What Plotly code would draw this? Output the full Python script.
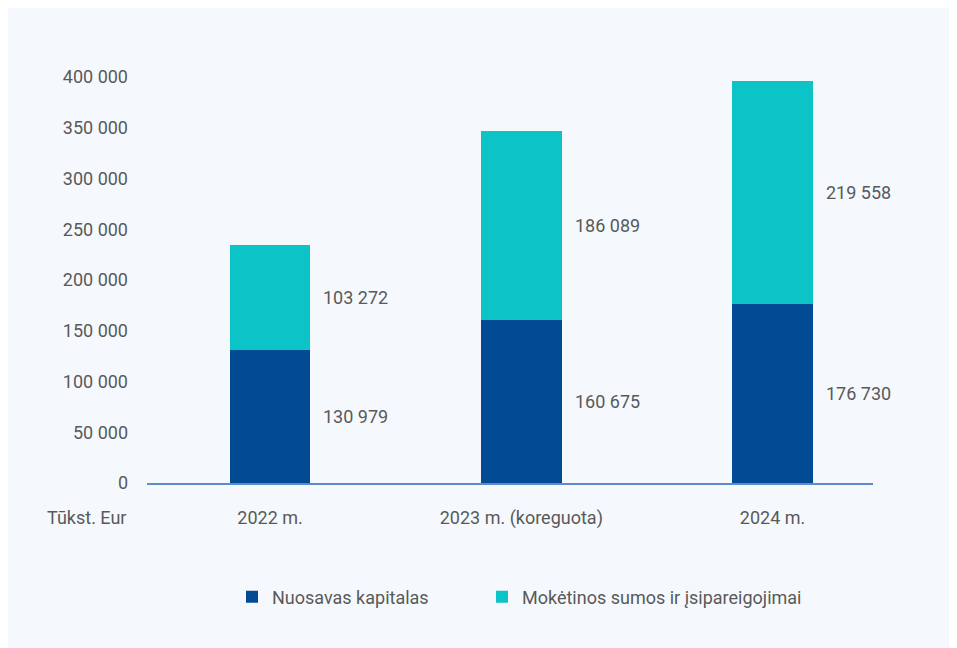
import plotly.graph_objects as go

categories = ["2022 m.", "2023 m. (koreguota)", "2024 m."]
equity = [130979, 160675, 176730]
liabilities = [103272, 186089, 219558]
series_names = ["Nuosavas kapitalas", "Mokėtinos sumos ir įsipareigojimai"]
y_ticks = [0, 50000, 100000, 150000, 200000, 250000, 300000, 350000, 400000]
unit_label = "Tūkst. Eur"

def fmt(v):
    return f"{v:,}".replace(",", " ")

DARK = "#034a94"
TEAL = "#0cc4c7"
TEXT = "#595959"
FONT = "Roboto"
FS = 18
BAR_W = 0.32

x_idx = list(range(len(categories)))

fig = go.Figure()
fig.add_trace(go.Bar(x=x_idx, y=equity, name=series_names[0], marker_color=DARK,
                     width=BAR_W, marker_line_width=0, legend="legend"))
fig.add_trace(go.Bar(x=x_idx, y=liabilities, name=series_names[1], marker_color=TEAL,
                     width=BAR_W, marker_line_width=0, legend="legend2"))

annotations = []
for i, (e, l) in enumerate(zip(equity, liabilities)):
    annotations.append(dict(x=i + BAR_W / 2, y=e / 2, text=fmt(e), showarrow=False,
                            xanchor="left", yanchor="middle", xshift=11,
                            font=dict(size=FS, color=TEXT, family=FONT)))
    annotations.append(dict(x=i + BAR_W / 2, y=e + l / 2, text=fmt(l), showarrow=False,
                            xanchor="left", yanchor="middle", xshift=11,
                            font=dict(size=FS, color=TEXT, family=FONT)))
annotations.append(dict(xref="paper", yref="paper", x=(120 - 139) / 726, y=(483 - 517) / 406,
                        text=unit_label, showarrow=False, xanchor="right", yanchor="middle",
                        font=dict(size=FS, color=TEXT, family=FONT)))

leg_common = dict(orientation="h", xanchor="left", y=(483 - 597) / 406, yanchor="middle",
                  font=dict(size=FS, color=TEXT, family=FONT),
                  bgcolor="rgba(0,0,0,0)", itemwidth=30)

fig.update_layout(
    barmode="stack",
    width=965, height=656,
    margin=dict(l=139, r=100, t=69, b=181),
    paper_bgcolor="#f5f9fe",
    plot_bgcolor="rgba(0,0,0,0)",
    font=dict(family=FONT, size=FS, color=TEXT),
    showlegend=True,
    legend=dict(x=(224 - 139) / 726, **leg_common),
    legend2=dict(x=(474 - 139) / 726, **leg_common),
    annotations=annotations,
)
fig.update_xaxes(range=[-0.49, 2.4], tickvals=x_idx, ticktext=categories,
                 showgrid=False, zeroline=False, showline=True, linecolor="#5b8ccc",
                 linewidth=1.5, ticks="", ticklabelstandoff=18,
                 tickfont=dict(size=FS, color=TEXT, family=FONT))
fig.update_yaxes(range=[0, 400000], tickvals=y_ticks, ticktext=[fmt(v) for v in y_ticks],
                 showgrid=False, zeroline=False, showline=False, ticks="",
                 ticklabelstandoff=18, tickfont=dict(size=FS, color=TEXT, family=FONT))

fig.write_html("out.html")
